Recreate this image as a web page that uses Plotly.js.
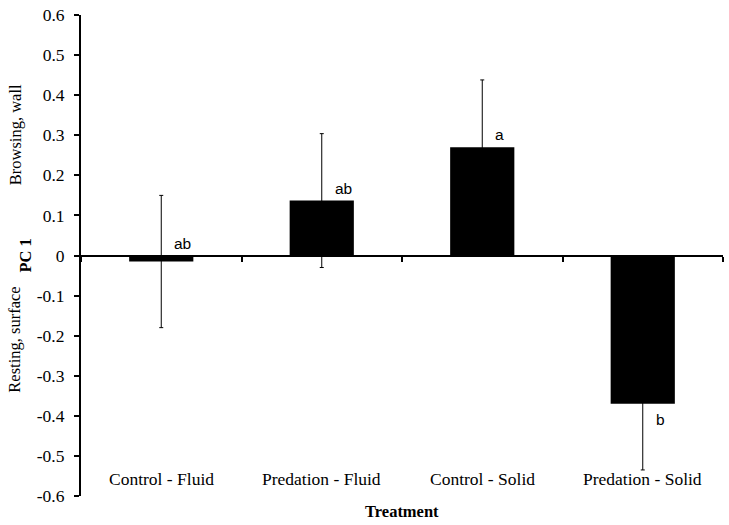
<!DOCTYPE html>
<html>
<head>
<meta charset="utf-8">
<script src="https://cdn.plot.ly/plotly-3.0.1.min.js"></script>
<style>html,body{margin:0;padding:0;background:#fff;}#chart{width:729px;height:525px;}</style>
</head>
<body>
<div id="chart"></div>
<script>
const categories = ["Control - Fluid", "Predation - Fluid", "Control - Solid", "Predation - Solid"];
const means = [-0.015, 0.137, 0.270, -0.370];
const errors = [0.165, 0.167, 0.168, 0.165];
const letters = ["ab", "ab", "a", "b"];
const yTicks = [-0.6, -0.5, -0.4, -0.3, -0.2, -0.1, 0, 0.1, 0.2, 0.3, 0.4, 0.5, 0.6];
const yTickText = ["-0.6", "-0.5", "-0.4", "-0.3", "-0.2", "-0.1", "0", "0.1", "0.2", "0.3", "0.4", "0.5", "0.6"];

const idx = categories.map((c, i) => i);
const serif = "Liberation Serif, Times New Roman, serif";
const sans = "Liberation Sans, Arial, sans-serif";

const trace = {
  type: "bar",
  x: idx,
  y: means,
  width: 0.4,
  marker: {color: "#000000", line: {width: 0}},
  error_y: {type: "data", array: errors, visible: true, color: "#000000", thickness: 1, width: 2},
  hoverinfo: "skip"
};

const annotations = [];
categories.forEach((c, i) => {
  annotations.push({
    x: i, y: -0.557, xref: "x", yref: "y", text: c, showarrow: false,
    font: {family: serif, size: 17.5, color: "#000"}, xanchor: "center", yanchor: "middle"
  });
  const v = means[i];
  const below = v < -0.05;
  annotations.push({
    x: i + 0.07, y: below ? v : Math.max(v, 0), xref: "x", yref: "y", text: letters[i], showarrow: false,
    font: {family: sans, size: 15.5, color: "#000"}, xanchor: "left",
    yanchor: below ? "top" : "bottom", yshift: below ? -5 : 2
  });
});
annotations.push({
  x: 0.5, y: 0, xref: "paper", yref: "paper", text: "<b>Treatment</b>", showarrow: false,
  font: {family: serif, size: 16.5, color: "#000"}, xanchor: "center", yanchor: "middle", yshift: -15
});
annotations.push({
  x: 0, y: 0, xref: "paper", yref: "y", text: "<b>PC 1</b>", showarrow: false, textangle: -90,
  font: {family: serif, size: 16.5, color: "#000"}, xanchor: "center", yanchor: "middle", xshift: -56
});
annotations.push({
  x: 0, y: 0.3, xref: "paper", yref: "y", text: "Browsing, wall", showarrow: false, textangle: -90,
  font: {family: serif, size: 16.5, color: "#000"}, xanchor: "center", yanchor: "middle", xshift: -66
});
annotations.push({
  x: 0, y: -0.21, xref: "paper", yref: "y", text: "Resting, surface", showarrow: false, textangle: -90,
  font: {family: serif, size: 16.5, color: "#000"}, xanchor: "center", yanchor: "middle", xshift: -66
});

const layout = {
  width: 729, height: 525,
  margin: {l: 81, r: 6, t: 15, b: 29},
  paper_bgcolor: "#ffffff", plot_bgcolor: "#ffffff",
  showlegend: false,
  xaxis: {
    range: [-0.5, 3.5], anchor: "free", position: 0.5,
    showline: true, linecolor: "#000", linewidth: 2,
    ticks: "outside", ticklen: 5, tickwidth: 2, tickcolor: "#000",
    tickmode: "array", tickvals: [-0.5, 0.5, 1.5, 2.5, 3.5], showticklabels: false,
    showgrid: false, zeroline: false, fixedrange: true
  },
  yaxis: {
    range: [-0.6, 0.6], tickmode: "array", tickvals: yTicks, ticktext: yTickText,
    showline: true, linecolor: "#000", linewidth: 2,
    ticks: "outside", ticklen: 5, tickwidth: 2, tickcolor: "#000",
    ticklabelstandoff: 6,
    tickfont: {family: serif, size: 17.5, color: "#000"},
    showgrid: false, zeroline: false, fixedrange: true
  },
  annotations: annotations
};

Plotly.newPlot("chart", [trace], layout, {displayModeBar: false, staticPlot: true});
</script>
</body>
</html>
